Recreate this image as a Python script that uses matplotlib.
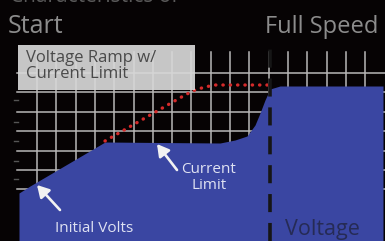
import matplotlib

matplotlib.use("Agg")
import matplotlib.pyplot as plt
import numpy as np
from matplotlib.patches import Rectangle

# current-limited voltage (blue area), time vs level
ramp_t = [19, 30, 105, 160, 220, 235, 247, 255, 260, 265, 270, 280, 383]
ramp_v = [48, 55, 99, 98.5, 98, 101, 105, 116, 128, 141, 152, 155, 155]

# ideal voltage ramp (red dotted)
ideal_t = [105, 185, 195, 205, 215, 268]
ideal_v = [100, 146, 151, 154, 156, 156]

full_speed_t = 270
full_speed_top = 199

# annotation arrows: (text anchor) -> (tip)
initial_tail, initial_tip = (60, 31), (37, 56)
limit_tail, limit_tip = (177, 71), (157, 97)

BG = "#060304"
BLUE = "#3a46a2"
GRID = "#b8b8b8"

fig = plt.figure(figsize=(3.85, 2.41), dpi=100, facecolor=BG)
ax = fig.add_axes([0, 0, 1, 1])
ax.set_facecolor(BG)
ax.set_xlim(0, 385)
ax.set_ylim(0, 241)
ax.axis("off")

# grid
for gx in 37 + 19.3 * np.arange(18):
    ax.plot([gx, gx], [0, 189], color=GRID, lw=1.1, zorder=1)
for gy in 168 - 19.4 * np.arange(7):
    ax.plot([17, 385], [gy, gy], color=GRID, lw=1.1, zorder=1)
for gy in [141, 119, 100, 80, 62]:
    ax.plot([14, 18], [gy, gy], color="#555555", lw=1.0, zorder=1)

ax.fill_between(ramp_t, 0, ramp_v, color=BLUE, lw=0, zorder=2)
ax.plot(ideal_t, ideal_v, color="#d42a2a", lw=2.4, ls=(0, (0.1, 2.1)),
        dash_capstyle="round", zorder=3)
ax.plot([full_speed_t, full_speed_t], [0, full_speed_top], color="#161616",
        lw=2.6, ls=(0, (5, 3)), zorder=3)

ax.add_patch(Rectangle((18, 151), 177, 45, facecolor="#d8d8d8", alpha=0.92,
                       edgecolor="none", zorder=4))
ax.text(26, 191, "Voltage Ramp w/\nCurrent Limit", color="#4a4a4a", fontsize=12,
        family="Open Sans", va="top", ha="left", linespacing=1.0, zorder=5)

ax.text(10, 239, "Characteristics of", color="#5a5a5a", fontsize=15,
        family="Open Sans", va="baseline", ha="left")
ax.text(8, 208, "Start", color="#8c8c8c", fontsize=18, family="Open Sans",
        va="baseline", ha="left")
ax.text(265, 208, "Full Speed", color="#8c8c8c", fontsize=17, family="Open Sans",
        va="baseline", ha="left")

ax.text(209, 79, "Current\nLimit", color="#dfe2f2", fontsize=11, family="Open Sans",
        va="top", ha="center", linespacing=1.05, zorder=5)
ax.text(55, 9, "Initial Volts", color="#dfe2f2", fontsize=11, family="Open Sans",
        va="baseline", ha="left", zorder=5)
ax.text(285, 6, "Voltage", color="#262b55", fontsize=15.5, family="Open Sans",
        va="baseline", ha="left", zorder=5)

arrow = dict(arrowstyle="-|>,head_length=0.7,head_width=0.4", color="#f2f2f2",
             lw=1.9, shrinkA=0, shrinkB=0)
ax.annotate("", xy=initial_tip, xytext=initial_tail, arrowprops=arrow, zorder=6)
ax.annotate("", xy=limit_tip, xytext=limit_tail, arrowprops=arrow, zorder=6)

fig.savefig("out.png", dpi=100, facecolor=BG)
